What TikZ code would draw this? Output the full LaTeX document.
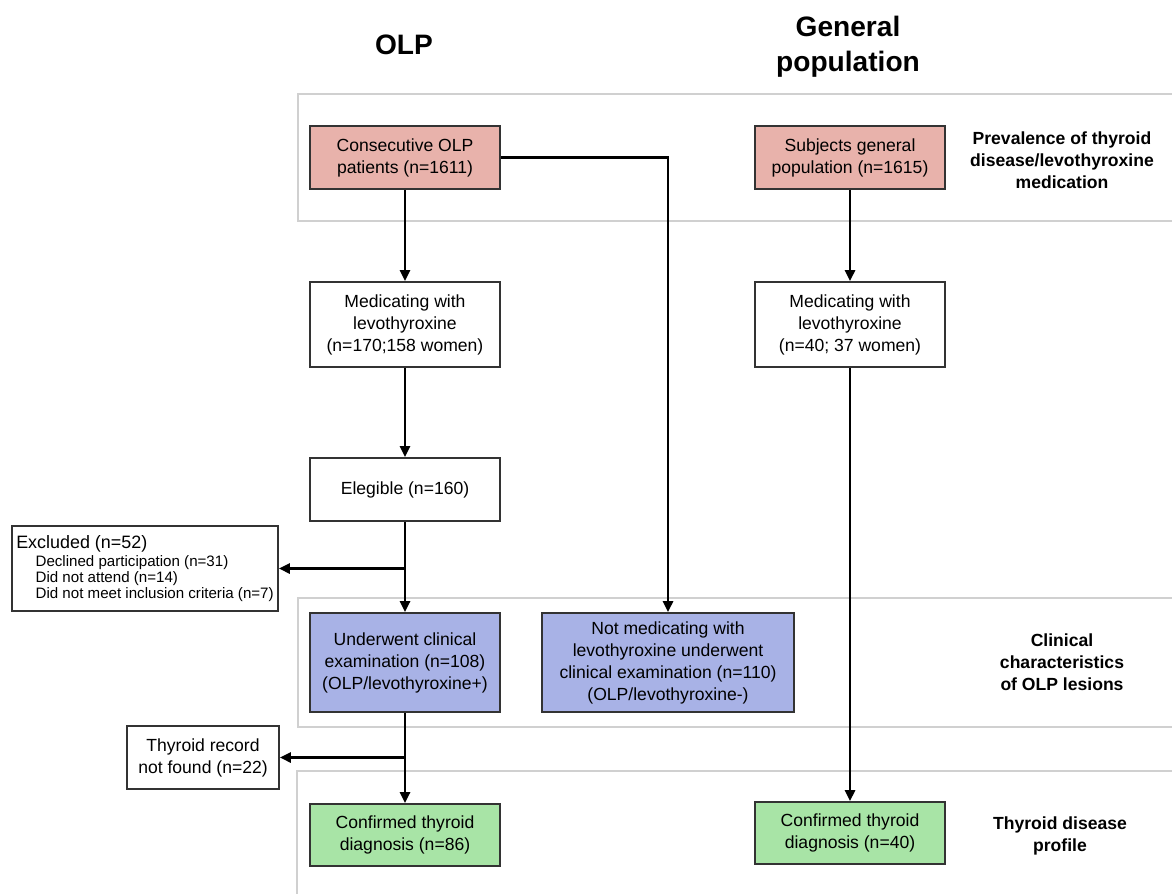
\documentclass[tikz,border=0pt]{standalone}
\usepackage{fontspec}
\setmainfont{Liberation Sans}
\usepackage{xcolor}
\usepackage{tikz}
\usetikzlibrary{arrows.meta,positioning,calc,shadows}
\definecolor{boxpink}{RGB}{232,178,171}
\definecolor{boxblue}{RGB}{168,178,230}
\definecolor{boxgreen}{RGB}{168,228,166}
\definecolor{bandgrey}{RGB}{208,208,208}
\tikzset{
  box/.style={rectangle, draw=black!80, line width=1pt, fill=white, align=center, inner sep=2pt, minimum width=3.8cm, font=\fontsize{10}{12.5}\selectfont, drop shadow={shadow xshift=0.8pt, shadow yshift=-0.8pt, opacity=0.3, fill=black}},
  pinkbox/.style={box, fill=boxpink},
  bluebox/.style={box, fill=boxblue},
  greenbox/.style={box, fill=boxgreen},
  band/.style={draw=bandgrey, line width=1.2pt}, % stage strips, open to the right
  head/.style={align=center, font=\fontsize{16}{19.9}\selectfont\bfseries},
  stage/.style={align=center, font=\fontsize{10}{12.5}\selectfont\bfseries},
  arr/.style={-{Triangle[length=6.3pt,width=5.8pt]}, line width=1.35pt, draw=black}
}

\begin{document}
\begin{tikzpicture}[x=0.02cm, y=-0.02cm]
  \useasboundingbox (0,0) rectangle (1172,893);

  % stage strips
  \draw[band] (298,94) rectangle (1190,221);
  \draw[band] (298,598) rectangle (1190,727);
  \draw[band] (297,771) rectangle (1190,910);

  % column heads
  \node[head] (olp) at (404,45) {OLP};
  \node[head] (gen) at (848,47) {General\\population};

  % stage labels
  \node[stage] (prev) at (1062,160) {Prevalence of thyroid\\disease/levothyroxine\\medication};
  \node[stage] (clin) at (1062,662) {Clinical\\characteristics\\of OLP lesions};
  \node[stage] (prof) at (1060,836) {Thyroid disease\\profile};

  % OLP column
  \node[pinkbox, minimum height=1.26cm] (cons) at (405,157.5) {Consecutive OLP\\patients (n=1611)};
  \node[box, minimum height=1.7cm] (med1) at (405,324.5) {Medicating with\\levothyroxine\\(n=170;158 women)};
  \node[box, minimum height=1.26cm] (eleg) at (405,489.5) {Elegible (n=160)};
  \node[bluebox, minimum height=1.98cm] (under) at (405,662.5) {Underwent clinical\\examination (n=108)\\(OLP/levothyroxine+)};
  \node[greenbox, minimum height=1.24cm] (conf1) at (405,835) {Confirmed thyroid\\diagnosis (n=86)};
  \node[bluebox, minimum width=5.04cm, minimum height=1.98cm] (notmed) at (668,662.5) {Not medicating with\\levothyroxine underwent\\clinical examination (n=110)\\(OLP/levothyroxine-)};

  % drop-outs
  \node[box, minimum width=5.32cm, minimum height=1.7cm, align=left, font=\fontsize{8.6}{9.1}\selectfont] (excl) at (145,568.5)
    {{\fontsize{10.2}{11}\selectfont Excluded (n=52)}\\[1.5pt]
     \hspace*{11pt}Declined participation (n=31)\\
     \hspace*{11pt}Did not attend (n=14)\\
     \hspace*{11pt}Did not meet inclusion criteria (n=7)};
  \node[box, minimum width=3.04cm, minimum height=1.26cm] (rec) at (203,757.5) {Thyroid record\\not found (n=22)};

  % general population column
  \node[pinkbox, minimum height=1.26cm] (subj) at (850,157.5) {Subjects general\\population (n=1615)};
  \node[box, minimum height=1.7cm] (med2) at (850,324.5) {Medicating with\\levothyroxine\\(n=40; 37 women)};
  \node[greenbox, minimum height=1.24cm] (conf2) at (850,833) {Confirmed thyroid\\diagnosis (n=40)};

  % flow
  \draw[arr] (cons) -- (med1);
  \draw[arr] (med1) -- (eleg);
  \draw[arr] (eleg) -- (under);
  \draw[arr] (eleg.south |- excl.east) -- (excl.east);
  \draw[arr] (under) -- (conf1);
  \draw[arr] (under.south |- rec.east) -- (rec.east);
  \draw[arr] (cons.east) -| (notmed.north);
  \draw[arr] (subj) -- (med2);
  \draw[arr] (med2) -- (conf2);
\end{tikzpicture}
\end{document}
